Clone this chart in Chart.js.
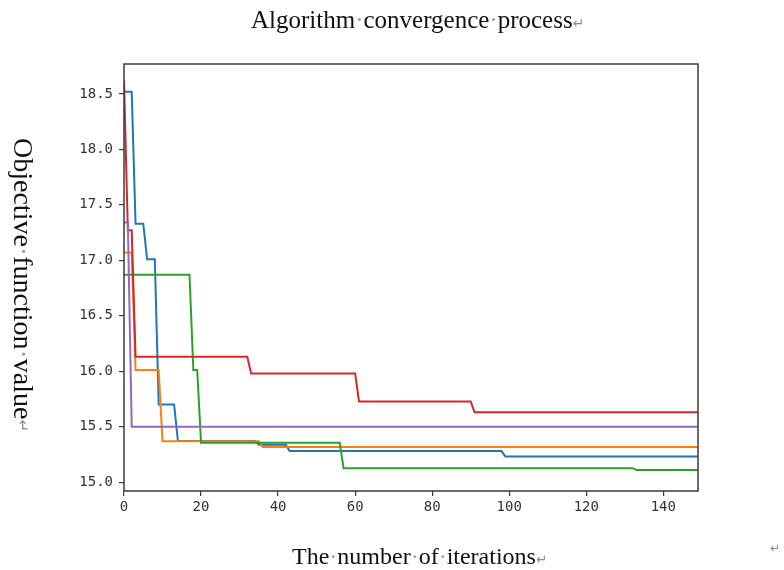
<!DOCTYPE html>
<html>
<head>
<meta charset="utf-8">
<script src="https://cdn.jsdelivr.net/npm/chart.js@4/dist/chart.umd.min.js"></script>
<style>
  body { margin: 0; background: #fff; }
  #wrap { position: relative; width: 784px; height: 570px; }
  #chart { position: absolute; left: 0; top: 0; }
  .cap { position: absolute; font-family: "Liberation Serif", serif; color: #111; line-height: 1; white-space: nowrap; }
  .sp { color: #9a9a9a; }
  .mk { color: #8a8a8a; font-family: "DejaVu Sans", sans-serif; font-size: 0.55em; }
  #title { left: 251px; top: 7px; font-size: 25px; }
  #xlabel { left: 292px; top: 544px; font-size: 24px; }
  #ylabel { left: 9px; top: 138px; font-size: 28px; writing-mode: vertical-rl; }
  #stray { position: absolute; left: 770px; top: 541px; font-family: "DejaVu Sans", sans-serif; font-size: 12px; color: #8a8a8a; }
</style>
</head>
<body>
<div id="wrap">
  <canvas id="chart" width="784" height="570"></canvas>
  <div class="cap" id="title">Algorithm<span class="sp">·</span>convergence<span class="sp">·</span>process<span class="mk">↵</span></div>
  <div class="cap" id="xlabel">The<span class="sp">·</span>number<span class="sp">·</span>of<span class="sp">·</span>iterations<span class="mk">↵</span></div>
  <div class="cap" id="ylabel">Objective<span class="sp">·</span>function<span class="sp">·</span>value<span class="mk">↵</span></div>
  <div id="stray">↵</div>
</div>
<script>
// step curves: iteration where a plateau starts/ends, and its value
const blueIter = [0, 2, 3, 5, 6, 8, 9, 13, 14, 34, 35, 42, 43, 98, 99, 149];
const blueVals = [18.52, 18.52, 17.33, 17.33, 17.01, 17.01, 15.70, 15.70, 15.37, 15.37, 15.336, 15.336, 15.28, 15.28, 15.23, 15.23];

const orangeIter = [0, 2, 3, 9, 10, 35, 36, 149];
const orangeVals = [17.07, 17.07, 16.01, 16.01, 15.368, 15.368, 15.316, 15.316];

const greenIter = [0, 17, 18, 19, 20, 56, 57, 132, 133, 149];
const greenVals = [16.87, 16.87, 16.01, 16.01, 15.355, 15.355, 15.126, 15.126, 15.11, 15.11];

const redIter = [0, 1, 2, 3, 32, 33, 60, 61, 90, 91, 149];
const redVals = [18.62, 17.27, 17.27, 16.13, 16.13, 15.98, 15.98, 15.727, 15.727, 15.63, 15.63];

const purpleIter = [0, 1, 2, 149];
const purpleVals = [17.34, 17.34, 15.50, 15.50];

const xTicks = [0, 20, 40, 60, 80, 100, 120, 140];
const yTicks = [15.0, 15.5, 16.0, 16.5, 17.0, 17.5, 18.0, 18.5];

function toPoints(iter, vals) {
    return iter.map((x, i) => ({ x: x, y: vals[i] }));
}

function makeSet(iter, vals, color, order) {
    return {
        data: toPoints(iter, vals),
        borderColor: color,
        borderWidth: 2,
        pointRadius: 0,
        tension: 0,
        fill: false,
        order: order
    };
}

// matplotlib style box around the plot
const framePlugin = {
    id: "frame",
    afterDraw(chart) {
        const a = chart.chartArea;
        const c = chart.ctx;
        c.save();
        c.strokeStyle = "#3a3a3a";
        c.lineWidth = 1.5;
        c.strokeRect(a.left, a.top, a.right - a.left, a.bottom - a.top);
        c.restore();
    }
};

const tickFont = { family: "DejaVu Sans Mono", size: 14 };

new Chart(document.getElementById("chart").getContext("2d"), {
    type: "line",
    data: {
        datasets: [
            makeSet(blueIter, blueVals, "#1f77b4", 4),
            makeSet(orangeIter, orangeVals, "#ff7f0e", 3),
            makeSet(greenIter, greenVals, "#2ca02c", 2),
            makeSet(redIter, redVals, "#d62728", 1),
            makeSet(purpleIter, purpleVals, "#9467bd", 0)
        ]
    },
    options: {
        responsive: false,
        animation: false,
        layout: { padding: { left: 0, right: 86, top: 64, bottom: 0 } },
        plugins: {
            legend: { display: false },
            tooltip: { enabled: false }
        },
        scales: {
            x: {
                type: "linear",
                min: 0,
                max: 149,
                afterBuildTicks: s => { s.ticks = xTicks.map(v => ({ value: v })); },
                afterFit: s => { s.height = 79; },
                border: { display: false },
                grid: { drawOnChartArea: false, drawTicks: true, tickLength: 5, color: "#3a3a3a", lineWidth: 1.2 },
                ticks: { color: "#333", font: tickFont, padding: 3, maxRotation: 0 }
            },
            y: {
                type: "linear",
                min: 14.92,
                max: 18.77,
                afterBuildTicks: s => { s.ticks = yTicks.map(v => ({ value: v })); },
                afterFit: s => { s.width = 124; },
                border: { display: false },
                grid: { drawOnChartArea: false, drawTicks: true, tickLength: 5, color: "#3a3a3a", lineWidth: 1.2 },
                ticks: { color: "#333", font: tickFont, padding: 6, callback: v => v.toFixed(1) }
            }
        }
    },
    plugins: [framePlugin]
});
</script>
</body>
</html>
